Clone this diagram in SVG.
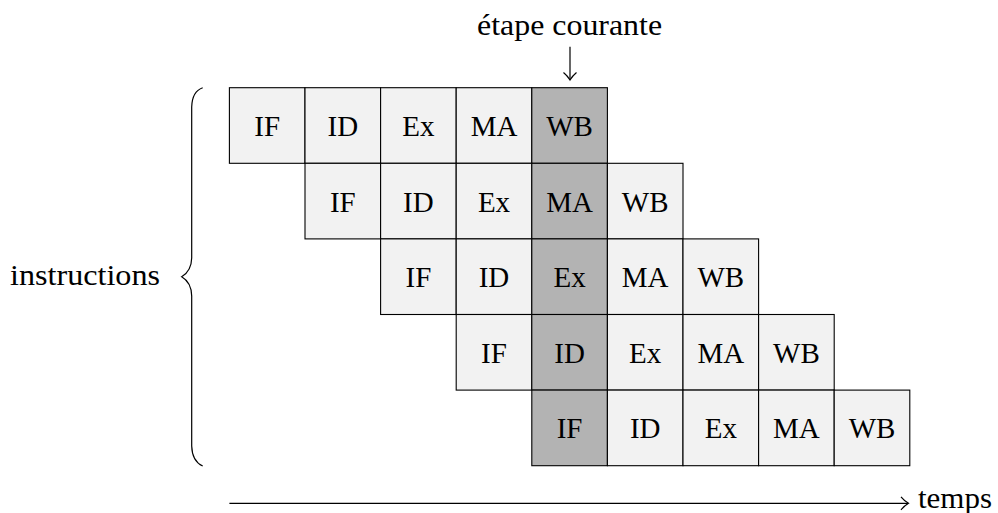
<svg xmlns="http://www.w3.org/2000/svg" width="998" height="513" viewBox="0 0 998 513" font-family="Liberation Serif, DejaVu Serif, serif">
<style>
.c{fill:#f2f2f2;stroke:#000;stroke-width:1.1}
.d{fill:#b3b3b3;stroke:#000;stroke-width:1.1}
text{font-family:Liberation Serif, DejaVu Serif, serif;font-size:29px;fill:#000}
.t{text-anchor:middle}
.ln{fill:none;stroke:#000;stroke-width:1.2}
</style>
<rect width="998" height="513" fill="#fff"/>
<g id="row1">
<rect class="c" x="229.4" y="87.7" width="75.6" height="75.6"/><text class="t" x="267.2" y="136">IF</text>
<rect class="c" x="305" y="87.7" width="75.6" height="75.6"/><text class="t" x="342.8" y="136">ID</text>
<rect class="c" x="380.6" y="87.7" width="75.6" height="75.6"/><text class="t" x="418.4" y="136">Ex</text>
<rect class="c" x="456.2" y="87.7" width="75.6" height="75.6"/><text class="t" x="494" y="136">MA</text>
<rect class="d" x="531.8" y="87.7" width="75.6" height="75.6"/><text class="t" x="569.6" y="136">WB</text>
</g>
<g id="row2">
<rect class="c" x="305" y="163.3" width="75.6" height="75.6"/><text class="t" x="342.8" y="211.6">IF</text>
<rect class="c" x="380.6" y="163.3" width="75.6" height="75.6"/><text class="t" x="418.4" y="211.6">ID</text>
<rect class="c" x="456.2" y="163.3" width="75.6" height="75.6"/><text class="t" x="494" y="211.6">Ex</text>
<rect class="d" x="531.8" y="163.3" width="75.6" height="75.6"/><text class="t" x="569.6" y="211.6">MA</text>
<rect class="c" x="607.4" y="163.3" width="75.6" height="75.6"/><text class="t" x="645.2" y="211.6">WB</text>
</g>
<g id="row3">
<rect class="c" x="380.6" y="238.9" width="75.6" height="75.6"/><text class="t" x="418.4" y="287.2">IF</text>
<rect class="c" x="456.2" y="238.9" width="75.6" height="75.6"/><text class="t" x="494" y="287.2">ID</text>
<rect class="d" x="531.8" y="238.9" width="75.6" height="75.6"/><text class="t" x="569.6" y="287.2">Ex</text>
<rect class="c" x="607.4" y="238.9" width="75.6" height="75.6"/><text class="t" x="645.2" y="287.2">MA</text>
<rect class="c" x="683" y="238.9" width="75.6" height="75.6"/><text class="t" x="720.8" y="287.2">WB</text>
</g>
<g id="row4">
<rect class="c" x="456.2" y="314.5" width="75.6" height="75.6"/><text class="t" x="494" y="362.8">IF</text>
<rect class="d" x="531.8" y="314.5" width="75.6" height="75.6"/><text class="t" x="569.6" y="362.8">ID</text>
<rect class="c" x="607.4" y="314.5" width="75.6" height="75.6"/><text class="t" x="645.2" y="362.8">Ex</text>
<rect class="c" x="683" y="314.5" width="75.6" height="75.6"/><text class="t" x="720.8" y="362.8">MA</text>
<rect class="c" x="758.6" y="314.5" width="75.6" height="75.6"/><text class="t" x="796.4" y="362.8">WB</text>
</g>
<g id="row5">
<rect class="d" x="531.8" y="390.1" width="75.6" height="75.6"/><text class="t" x="569.6" y="438.4">IF</text>
<rect class="c" x="607.4" y="390.1" width="75.6" height="75.6"/><text class="t" x="645.2" y="438.4">ID</text>
<rect class="c" x="683" y="390.1" width="75.6" height="75.6"/><text class="t" x="720.8" y="438.4">Ex</text>
<rect class="c" x="758.6" y="390.1" width="75.6" height="75.6"/><text class="t" x="796.4" y="438.4">MA</text>
<rect class="c" x="834.2" y="390.1" width="75.6" height="75.6"/><text class="t" x="872" y="438.4">WB</text>
</g>
<g id="label-etape">
<text class="t" x="569.6" y="35" textLength="185" lengthAdjust="spacingAndGlyphs">étape courante</text>
</g>
<g id="label-instructions">
<text x="10" y="285" textLength="150" lengthAdjust="spacingAndGlyphs">instructions</text>
</g>
<g id="label-temps">
<text x="918" y="508" textLength="74" lengthAdjust="spacingAndGlyphs">temps</text>
</g>
<g id="brace">
<path class="ln" d="M202.7,87.7 C196,90 192,96 191.7,107 L191.7,258 C191.5,268 188,273 181.7,276.8 C188,280.5 191.5,286 191.7,296 L191.7,446 C192,457 196,463 202.7,466"/>
</g>
<g id="connectors">
<path class="ln" d="M570,46.7 L570,79.5"/>
<path class="ln" d="M563.5,72.5 C566.5,75 568.5,77.5 570,80 C571.5,77.5 573.5,75 576.5,72.5"/>
<path class="ln" d="M229.4,503.3 L908,503.3"/>
<path class="ln" d="M901,496.8 C903.5,499.8 906,501.8 908.5,503.3 C906,504.8 903.5,506.8 901,509.8"/>
</g>
</svg>
